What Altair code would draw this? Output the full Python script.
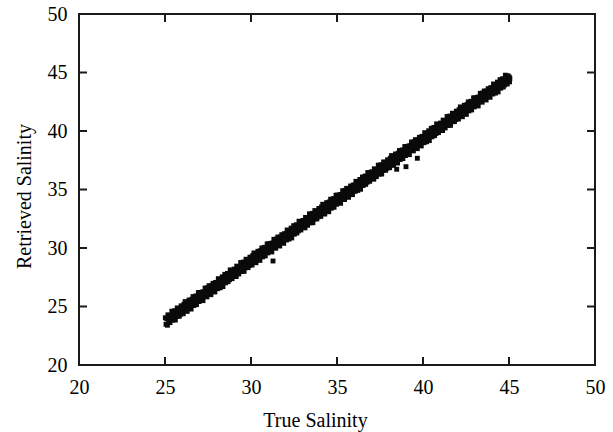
import altair as alt
import pandas as pd

true_salinity = [
    25.02, 25.06, 25.10, 25.14, 25.17, 25.21, 25.25, 25.29, 25.33, 25.37, 25.40, 25.44, 25.48, 25.52, 25.56, 25.60, 25.63, 25.67, 25.71, 25.75, 25.79, 25.83, 25.86, 25.90, 25.94, 25.98,
    26.02, 26.06, 26.10, 26.14, 26.17, 26.21, 26.25, 26.29, 26.33, 26.37, 26.40, 26.44, 26.48, 26.52, 26.56, 26.60, 26.63, 26.67, 26.71, 26.75, 26.79, 26.83, 26.86, 26.90, 26.94, 26.98,
    27.02, 27.06, 27.10, 27.14, 27.17, 27.21, 27.25, 27.29, 27.33, 27.37, 27.40, 27.44, 27.48, 27.52, 27.56, 27.60, 27.63, 27.67, 27.71, 27.75, 27.79, 27.83, 27.86, 27.90, 27.94, 27.98,
    28.02, 28.06, 28.10, 28.14, 28.17, 28.21, 28.25, 28.29, 28.33, 28.37, 28.40, 28.44, 28.48, 28.52, 28.56, 28.60, 28.63, 28.67, 28.71, 28.75, 28.79, 28.83, 28.86, 28.90, 28.94, 28.98,
    29.02, 29.06, 29.10, 29.14, 29.17, 29.21, 29.25, 29.29, 29.33, 29.37, 29.40, 29.44, 29.48, 29.52, 29.56, 29.60, 29.63, 29.67, 29.71, 29.75, 29.79, 29.83, 29.86, 29.90, 29.94, 29.98,
    30.02, 30.06, 30.10, 30.14, 30.17, 30.21, 30.25, 30.29, 30.33, 30.37, 30.40, 30.44, 30.48, 30.52, 30.56, 30.60, 30.63, 30.67, 30.71, 30.75, 30.79, 30.83, 30.86, 30.90, 30.94, 30.98,
    31.02, 31.06, 31.10, 31.14, 31.17, 31.21, 31.25, 31.29, 31.33, 31.37, 31.40, 31.44, 31.48, 31.52, 31.56, 31.60, 31.63, 31.67, 31.71, 31.75, 31.79, 31.83, 31.86, 31.90, 31.94, 31.98,
    32.02, 32.06, 32.10, 32.14, 32.17, 32.21, 32.25, 32.29, 32.33, 32.37, 32.40, 32.44, 32.48, 32.52, 32.56, 32.60, 32.63, 32.67, 32.71, 32.75, 32.79, 32.83, 32.86, 32.90, 32.94, 32.98,
    33.02, 33.06, 33.10, 33.14, 33.17, 33.21, 33.25, 33.29, 33.33, 33.37, 33.40, 33.44, 33.48, 33.52, 33.56, 33.60, 33.63, 33.67, 33.71, 33.75, 33.79, 33.83, 33.86, 33.90, 33.94, 33.98,
    34.02, 34.06, 34.10, 34.14, 34.17, 34.21, 34.25, 34.29, 34.33, 34.37, 34.40, 34.44, 34.48, 34.52, 34.56, 34.60, 34.63, 34.67, 34.71, 34.75, 34.79, 34.83, 34.86, 34.90, 34.94, 34.98,
    35.02, 35.06, 35.10, 35.14, 35.17, 35.21, 35.25, 35.29, 35.33, 35.37, 35.40, 35.44, 35.48, 35.52, 35.56, 35.60, 35.63, 35.67, 35.71, 35.75, 35.79, 35.83, 35.86, 35.90, 35.94, 35.98,
    36.02, 36.06, 36.10, 36.14, 36.17, 36.21, 36.25, 36.29, 36.33, 36.37, 36.40, 36.44, 36.48, 36.52, 36.56, 36.60, 36.63, 36.67, 36.71, 36.75, 36.79, 36.83, 36.86, 36.90, 36.94, 36.98,
    37.02, 37.06, 37.10, 37.14, 37.17, 37.21, 37.25, 37.29, 37.33, 37.37, 37.40, 37.44, 37.48, 37.52, 37.56, 37.60, 37.63, 37.67, 37.71, 37.75, 37.79, 37.83, 37.86, 37.90, 37.94, 37.98,
    38.02, 38.06, 38.10, 38.14, 38.17, 38.21, 38.25, 38.29, 38.33, 38.37, 38.40, 38.44, 38.48, 38.52, 38.56, 38.60, 38.63, 38.67, 38.71, 38.75, 38.79, 38.83, 38.86, 38.90, 38.94, 38.98,
    39.02, 39.06, 39.10, 39.14, 39.17, 39.21, 39.25, 39.29, 39.33, 39.37, 39.40, 39.44, 39.48, 39.52, 39.56, 39.60, 39.63, 39.67, 39.71, 39.75, 39.79, 39.83, 39.86, 39.90, 39.94, 39.98,
    40.02, 40.06, 40.10, 40.14, 40.17, 40.21, 40.25, 40.29, 40.33, 40.37, 40.40, 40.44, 40.48, 40.52, 40.56, 40.60, 40.63, 40.67, 40.71, 40.75, 40.79, 40.83, 40.86, 40.90, 40.94, 40.98,
    41.02, 41.06, 41.10, 41.14, 41.17, 41.21, 41.25, 41.29, 41.33, 41.37, 41.40, 41.44, 41.48, 41.52, 41.56, 41.60, 41.63, 41.67, 41.71, 41.75, 41.79, 41.83, 41.86, 41.90, 41.94, 41.98,
    42.02, 42.06, 42.10, 42.14, 42.17, 42.21, 42.25, 42.29, 42.33, 42.37, 42.40, 42.44, 42.48, 42.52, 42.56, 42.60, 42.63, 42.67, 42.71, 42.75, 42.79, 42.83, 42.86, 42.90, 42.94, 42.98,
    43.02, 43.06, 43.10, 43.14, 43.17, 43.21, 43.25, 43.29, 43.33, 43.37, 43.40, 43.44, 43.48, 43.52, 43.56, 43.60, 43.63, 43.67, 43.71, 43.75, 43.79, 43.83, 43.86, 43.90, 43.94, 43.98,
    44.02, 44.06, 44.10, 44.14, 44.17, 44.21, 44.25, 44.29, 44.33, 44.37, 44.40, 44.44, 44.48, 44.52, 44.56, 44.60, 44.63, 44.67, 44.71, 44.75, 44.79, 44.83, 44.86, 44.90, 44.94, 44.98,
    45.01, 45.03, 45.05,
]

retrieved_salinity = [
    24.04, 23.48, 23.95, 23.40, 24.29, 23.80, 24.21, 23.62, 24.09, 23.88, 24.60, 23.83, 24.38, 24.19, 24.64, 23.84, 24.46, 24.15, 24.88, 24.33, 24.80, 24.16, 24.61, 24.34, 25.06, 24.62,
    24.88, 24.38, 25.19, 24.71, 25.42, 24.66, 25.08, 24.58, 25.35, 25.10, 25.56, 24.96, 25.44, 24.78, 25.62, 25.28, 25.85, 25.08, 25.62, 25.30, 25.90, 25.16, 25.87, 25.56, 26.19, 25.42,
    26.20, 25.64, 25.94, 25.58, 26.24, 25.50, 26.26, 25.98, 26.58, 25.88, 26.36, 25.82, 26.61, 26.26, 26.78, 26.08, 26.48, 26.01, 26.78, 26.40, 26.98, 26.38, 26.79, 26.24, 27.06, 26.76,
    27.06, 26.52, 27.38, 26.89, 27.30, 26.60, 27.22, 26.86, 27.54, 26.70, 27.34, 27.10, 27.75, 27.02, 27.64, 27.32, 27.83, 27.12, 27.62, 27.30, 28.13, 27.46, 27.89, 27.38, 28.08, 27.70,
    28.20, 27.64, 28.11, 27.56, 28.45, 27.96, 28.37, 27.78, 28.25, 28.04, 28.76, 27.99, 28.54, 28.35, 28.80, 28.00, 28.62, 28.31, 29.04, 28.49, 28.96, 28.32, 28.77, 28.50, 29.22, 28.78,
    29.04, 28.54, 29.35, 28.87, 29.58, 28.82, 29.24, 28.74, 29.51, 29.26, 29.72, 29.12, 29.60, 28.94, 29.78, 29.44, 30.01, 29.24, 29.78, 29.46, 30.06, 29.32, 30.03, 29.72, 30.35, 29.58,
    30.36, 29.80, 30.10, 29.74, 30.40, 29.66, 30.42, 30.14, 30.74, 30.04, 30.52, 29.98, 30.77, 30.42, 30.94, 30.24, 30.64, 30.17, 30.94, 30.56, 31.14, 30.54, 30.95, 30.40, 31.22, 30.92,
    31.22, 30.68, 31.54, 31.05, 31.46, 30.76, 31.38, 31.02, 31.70, 30.86, 31.50, 31.26, 31.91, 31.18, 31.80, 31.48, 31.99, 31.28, 31.78, 31.46, 32.29, 31.62, 32.05, 31.54, 32.24, 31.86,
    32.36, 31.80, 32.27, 31.72, 32.61, 32.12, 32.53, 31.94, 32.41, 32.20, 32.92, 32.15, 32.70, 32.51, 32.96, 32.16, 32.78, 32.47, 33.20, 32.65, 33.12, 32.48, 32.93, 32.66, 33.38, 32.94,
    33.20, 32.70, 33.51, 33.03, 33.74, 32.98, 33.40, 32.90, 33.67, 33.42, 33.88, 33.28, 33.76, 33.10, 33.94, 33.60, 34.17, 33.40, 33.94, 33.62, 34.22, 33.48, 34.19, 33.88, 34.51, 33.74,
    34.52, 33.96, 34.26, 33.90, 34.56, 33.82, 34.58, 34.30, 34.90, 34.20, 34.68, 34.14, 34.93, 34.58, 35.10, 34.40, 34.80, 34.33, 35.10, 34.72, 35.30, 34.70, 35.11, 34.56, 35.38, 35.08,
    35.38, 34.84, 35.70, 35.21, 35.62, 34.92, 35.54, 35.18, 35.86, 35.02, 35.66, 35.42, 36.07, 35.34, 35.96, 35.64, 36.15, 35.44, 35.94, 35.62, 36.45, 35.78, 36.21, 35.70, 36.40, 36.02,
    36.52, 35.96, 36.43, 35.88, 36.77, 36.28, 36.69, 36.10, 36.57, 36.36, 37.08, 36.31, 36.86, 36.67, 37.12, 36.32, 36.94, 36.63, 37.36, 36.81, 37.28, 36.64, 37.09, 36.82, 37.54, 37.10,
    37.36, 36.86, 37.67, 37.19, 37.90, 37.14, 37.56, 37.06, 37.83, 37.58, 38.04, 37.44, 37.92, 37.26, 38.10, 37.76, 38.33, 37.56, 38.10, 37.78, 38.38, 37.64, 38.35, 38.04, 38.67, 37.90,
    38.68, 38.12, 38.42, 38.06, 38.72, 37.98, 38.74, 38.46, 39.06, 38.36, 38.84, 38.30, 39.09, 38.74, 39.26, 38.56, 38.96, 38.49, 39.26, 38.88, 39.46, 38.86, 39.27, 38.72, 39.54, 39.24,
    39.54, 39.00, 39.86, 39.37, 39.78, 39.08, 39.70, 39.34, 40.02, 39.18, 39.82, 39.58, 40.23, 39.50, 40.12, 39.80, 40.31, 39.60, 40.10, 39.78, 40.61, 39.94, 40.37, 39.86, 40.56, 40.18,
    40.68, 40.12, 40.59, 40.04, 40.93, 40.44, 40.85, 40.26, 40.73, 40.52, 41.24, 40.47, 41.02, 40.83, 41.28, 40.48, 41.10, 40.79, 41.52, 40.97, 41.44, 40.80, 41.25, 40.98, 41.70, 41.26,
    41.52, 41.02, 41.83, 41.35, 42.06, 41.30, 41.72, 41.22, 41.99, 41.74, 42.20, 41.60, 42.08, 41.42, 42.26, 41.92, 42.49, 41.72, 42.26, 41.94, 42.54, 41.80, 42.51, 42.20, 42.83, 42.06,
    42.84, 42.28, 42.58, 42.22, 42.88, 42.14, 42.90, 42.62, 43.22, 42.52, 43.00, 42.46, 43.25, 42.90, 43.42, 42.72, 43.12, 42.65, 43.42, 43.04, 43.62, 43.02, 43.43, 42.88, 43.70, 43.40,
    43.70, 43.16, 44.02, 43.53, 43.94, 43.24, 43.86, 43.50, 44.18, 43.34, 43.98, 43.74, 44.39, 43.66, 44.28, 43.96, 44.47, 43.76, 44.26, 43.94, 44.77, 44.10, 44.53, 44.02, 44.72, 44.34,
    44.62, 44.20, 44.48,
]

outlier_true = [31.28, 38.47, 39.01, 39.67]
outlier_retrieved = [28.89, 36.73, 36.95, 37.67]

axis_values = [20, 25, 30, 35, 40, 45, 50]
inner_tick_values = [25, 30, 35, 40, 45]

FONT = "Liberation Serif"
INK = "#1a1a1a"

points_df = pd.DataFrame({
    "true": true_salinity + outlier_true,
    "retrieved": retrieved_salinity + outlier_retrieved,
})
xticks_df = pd.DataFrame({"true": inner_tick_values})
yticks_df = pd.DataFrame({"retrieved": inner_tick_values})

xs = alt.Scale(domain=[20, 50], nice=False, zero=False)
ys = alt.Scale(domain=[20, 50], nice=False, zero=False)

x_axis = alt.Axis(
    values=axis_values, title="True Salinity",
    titleX=236, titleY=61, titleBaseline="alphabetic", titleAlign="center")
y_axis = alt.Axis(
    values=axis_values, title="Retrieved Salinity",
    titleX=-49, titleY=182, titleBaseline="alphabetic", titleAlign="center")

points = alt.Chart(points_df).mark_square(size=24, color="#0a0a0a", opacity=1).encode(
    x=alt.X("true:Q", scale=xs, axis=x_axis),
    y=alt.Y("retrieved:Q", scale=ys, axis=y_axis),
)

def xrule(y0, y1):
    return alt.Chart(xticks_df).mark_rule(color=INK, strokeWidth=2).encode(
        x=alt.X("true:Q", scale=xs, axis=x_axis), y=alt.value(y0), y2=alt.value(y1))

def yrule(x0, x1):
    return alt.Chart(yticks_df).mark_rule(color=INK, strokeWidth=2).encode(
        y=alt.Y("retrieved:Q", scale=ys, axis=y_axis), x=alt.value(x0), x2=alt.value(x1))

chart = alt.layer(
    points,
    xrule(343, 351), xrule(0, 8),
    yrule(0, 8), yrule(508, 516),
).properties(
    width=516, height=351,
    autosize=alt.AutoSizeParams(type="none"),
    padding={"left": 79, "top": 14, "right": 18, "bottom": 67},
).configure(
    font=FONT,
).configure_axis(
    grid=False, ticks=False, domain=False,
    labelFont=FONT, labelFontSize=20, labelColor="#000", labelPadding=12, labelFlush=False,
    titleFont=FONT, titleFontSize=20, titleColor="#000", titleFontWeight="normal",
).configure_view(stroke=INK, strokeWidth=2)

chart.save("out.html", embed_options={"renderer": "svg", "actions": False})
